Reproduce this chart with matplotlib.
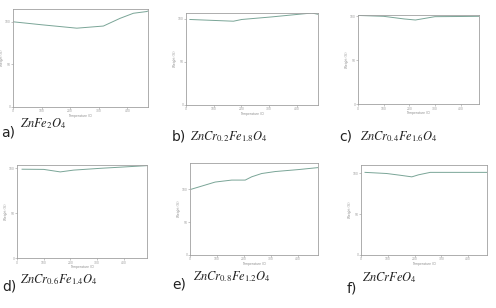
import matplotlib
matplotlib.use("Agg")
import matplotlib.pyplot as plt

plt.rcParams['mathtext.fontset'] = 'stix'

# Data (temperature in C, weight in %)
temp_a = [0, 100, 223, 316, 374, 421, 467, 475]
weight_a = [100, 96.5, 92.5, 95, 104, 110, 112, 113]
temp_b = [14, 171, 201, 310, 406, 454, 476]
weight_b = [99, 97, 99, 102, 105, 106.5, 105]
temp_c = [0, 100, 180, 224, 300, 400, 472]
weight_c = [101, 100, 97, 95.8, 99.6, 99.8, 100]
temp_d = [19, 100, 162, 212, 312, 400, 487]
weight_d = [99, 98.8, 96, 98, 100, 101.5, 103]
temp_e = [4, 93, 154, 204, 228, 265, 315, 401, 473]
weight_e = [100, 111, 114, 114, 119, 124, 127, 130, 133]
temp_f = [15, 96, 146, 190, 215, 259, 350, 471]
weight_f = [101, 99.6, 97.5, 95.5, 98, 101, 101, 101]

x_ticks = [0, 100, 200, 300, 400]
y_ticks = [0, 50, 100]
panel_letters = ['a)', 'b)', 'c)', 'd)', 'e)', 'f)']
formulas = [r'$ZnFe_2O_4$', r'$ZnCr_{0.2}Fe_{1.8}O_4$', r'$ZnCr_{0.4}Fe_{1.6}O_4$',
            r'$ZnCr_{0.6}Fe_{1.4}O_4$', r'$ZnCr_{0.8}Fe_{1.2}O_4$', r'$ZnCrFeO_4$']
x_label = 'Temperature (C)'
y_label = 'Weight (%)'

W, H = 496, 308
fig = plt.figure(figsize=(W / 100, H / 100), dpi=100)

# pixel boxes: left, right, top, bottom
boxes = [(13, 148, 9, 107), (186, 318, 13, 105), (358, 479, 15, 104),
         (17, 147, 165, 258), (190, 318, 163, 255), (361, 487, 165, 255)]
ylims = [(0, 115), (0, 106.5), (0, 101.5), (0, 103.7), (0, 140), (0, 110)]
xlims = [(0, 472), (0, 476), (0, 472), (0, 487), (0, 473), (0, 471)]
series = [(temp_a, weight_a), (temp_b, weight_b), (temp_c, weight_c),
          (temp_d, weight_d), (temp_e, weight_e), (temp_f, weight_f)]
line_color = '#7aa597'

for (l, r, t, b), yl, xl, (xs, ys) in zip(boxes, ylims, xlims, series):
    ax = fig.add_axes([l / W, 1 - b / H, (r - l) / W, (b - t) / H])
    ax.plot(xs, ys, color=line_color, lw=0.7)
    ax.set_xlim(*xl)
    ax.set_ylim(*yl)
    ax.set_xticks(x_ticks)
    ax.set_yticks(y_ticks)
    ax.tick_params(labelsize=2.2, length=1.2, width=0.4, pad=0.6, colors='#999999')
    for s in ax.spines.values():
        s.set_color('#a0a0a0')
        s.set_linewidth(0.6)
    ax.set_xlabel(x_label, fontsize=2.2, labelpad=0.3, color='#888888')
    ax.set_ylabel(y_label, fontsize=2.2, labelpad=0.3, color='#888888')

# panel labels: (letter x, letter y, formula x, formula y) in pixels
label_pos = [(1, 132, 20, 124), (172, 137, 190, 137), (339, 137, 360, 137),
             (2, 287, 20, 280), (172, 284, 193, 277), (347, 288, 362, 278)]
for (lx, ly, fx, fy), let, form in zip(label_pos, panel_letters, formulas):
    fig.text(lx / W, 1 - ly / H, let, fontsize=10, va='center', ha='left', color='#222222')
    fig.text(fx / W, 1 - fy / H, form, fontsize=9, va='center', ha='left', color='#222222')

fig.savefig('out.png', dpi=100)
